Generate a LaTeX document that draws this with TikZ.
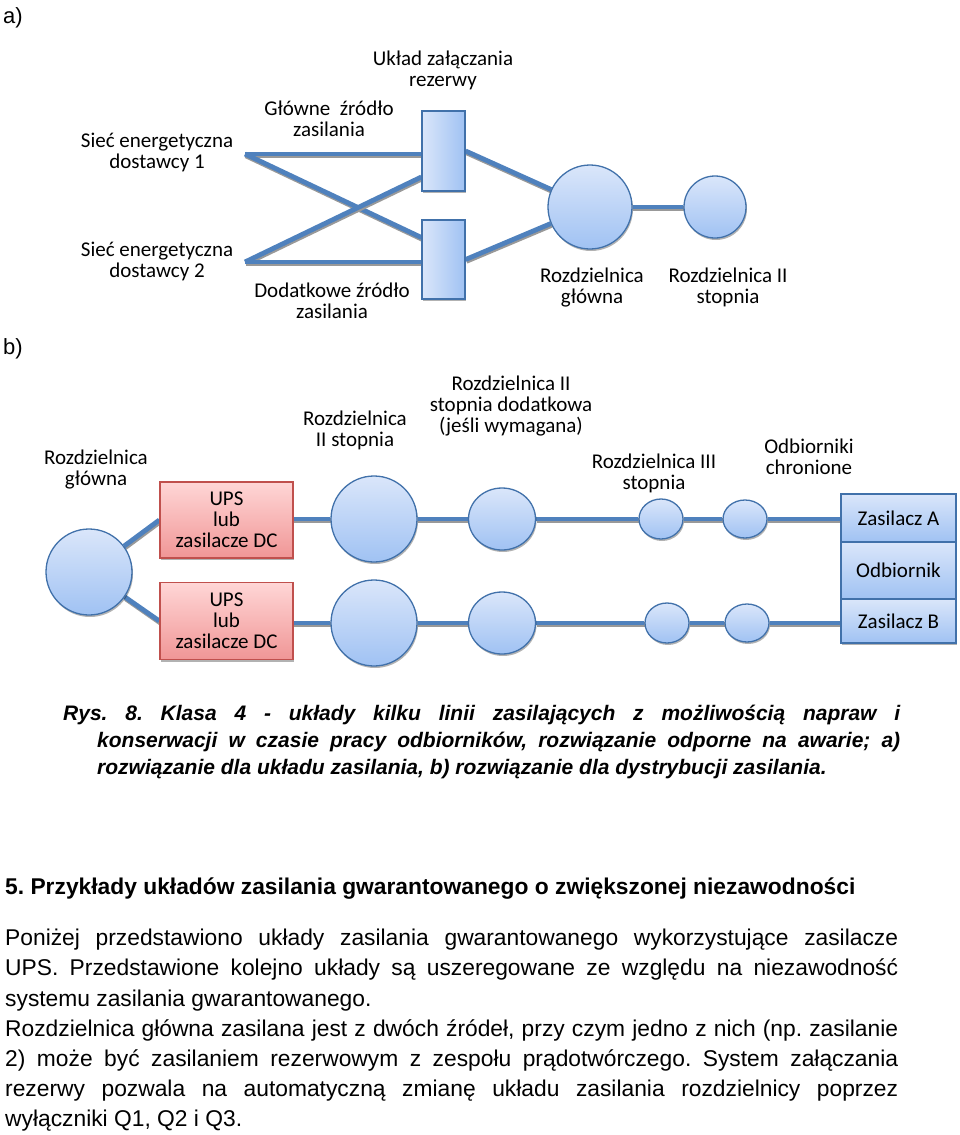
\documentclass[tikz,border=0pt]{standalone}
\usepackage{fontspec}
\setmainfont{Liberation Sans}
\newfontfamily\calib{Carlito}
\usetikzlibrary{shapes.geometric,shadows,backgrounds}
\definecolor{linkblue}{RGB}{79,129,189}
\definecolor{edgeblue}{RGB}{65,113,170}
\definecolor{blueA}{RGB}{218,230,250}
\definecolor{blueB}{RGB}{160,194,243}
\definecolor{pinkA}{RGB}{255,214,214}
\definecolor{pinkB}{RGB}{240,150,150}
\definecolor{edgered}{RGB}{192,80,77}
\frenchspacing

\begin{document}
\begin{tikzpicture}[x=1pt,y=-1pt,
    lbl/.style={font=\calib\fontsize{21}{21}\selectfont, align=center, inner sep=0pt},
    shad/.style={drop shadow={shadow xshift=1pt,shadow yshift=-2pt,opacity=0.3,fill=black}},
    sw/.style={draw=edgeblue, line width=1.3pt, left color=blueA, right color=blueB, shad, minimum width=43pt, minimum height=80pt, inner sep=0pt},
    rg/.style={circle, draw=edgeblue, line width=1.3pt, top color=blueA, bottom color=blueB, shad, inner sep=0pt},
    rgs/.style={ellipse, draw=edgeblue, line width=1.3pt, top color=blueA, bottom color=blueB, shad, inner sep=0pt},
    ups/.style={draw=edgered, line width=1.3pt, top color=pinkA, bottom color=pinkB, shad, minimum width=133pt, minimum height=77pt, lbl},
    cell/.style={draw=edgeblue, line width=1.3pt, top color=blueA, bottom color=blueB, shad, minimum width=115pt, lbl},
    link/.style={line width=4.8pt, linkblue, preaction={draw=black!40, line width=4.8pt, transform canvas={xshift=0.8pt,yshift=-1.8pt}}}
  ]
    \useasboundingbox (0,0) rectangle (960,1135);

    \node[anchor=west, inner sep=0pt, font=\fontsize{22}{22}\selectfont] (taga) at (3,18) {a)};
    \node[anchor=west, inner sep=0pt, font=\fontsize{22}{22}\selectfont] (tagb) at (3,349) {b)};

    \node[sw] (szr1) at (443.5,151) {};
    \node[sw, minimum height=79pt] (szr2) at (443.5,259.5) {};
    \node[rg, minimum size=84pt] (rgl) at (590,207) {};
    \node[rg, minimum size=62pt] (r2st) at (715,207) {};
    \coordinate (s1) at (245,154);
    \coordinate (s2) at (245,262);

    \node[lbl] (t_szr) at (443,70) {Układ załączania\\rezerwy};
    \node[lbl] (t_gl) at (329,119) {Główne \ źródło\\zasilania};
    \node[lbl] (t_s1) at (157,152) {Sieć energetyczna\\dostawcy 1};
    \node[lbl] (t_s2) at (157,261) {Sieć energetyczna\\dostawcy 2};
    \node[lbl] (t_dod) at (332,301) {Dodatkowe źródło\\zasilania};
    \node[lbl] (t_rgl) at (592,287.5) {Rozdzielnica\\główna};
    \node[lbl] (t_r2st) at (728,287.5) {Rozdzielnica II\\stopnia};

    \begin{scope}[on background layer]
        \draw[link] (s1) -- (s1 -| szr1.west);
        \draw[link] (s1) -- ([yshift=22pt]szr2.west);
        \draw[link] (s2) -- ([yshift=-26pt]szr1.west);
        \draw[link] (s2) -- (s2 -| szr2.west);
        \draw[link] (szr1.east) -- (rgl);
        \draw[link] (szr2.east) -- (rgl);
        \draw[link] (rgl) -- (r2st);
    \end{scope}

    \node[rg, minimum size=86pt] (bgl) at (89,572) {};
    \node[ups, minimum height=76pt] (ups1) at (226.5,520) {UPS\\lub\\zasilacze DC};
    \node[ups] (ups2) at (226.5,621) {UPS\\lub\\zasilacze DC};
    \node[rg, minimum size=86pt] (c2a) at (374,519) {};
    \node[rg, minimum size=86pt] (c2b) at (374,623) {};
    \node[rgs, minimum width=67pt, minimum height=62pt] (c3a) at (502,519) {};
    \node[rgs, minimum width=67pt, minimum height=62pt] (c3b) at (502,623) {};
    \node[rgs, minimum width=44pt, minimum height=40pt] (c4a) at (661,519) {};
    \node[rgs, minimum width=44pt, minimum height=40pt] (c4b) at (667,623) {};
    \node[rgs, minimum width=44pt, minimum height=38pt] (c5a) at (745,519) {};
    \node[rgs, minimum width=44pt, minimum height=38pt] (c5b) at (747,623) {};
    \node[cell, minimum height=48pt] (zasA) at (898.5,518) {Zasilacz A};
    \node[cell, minimum height=57pt] (odb) at (898.5,570.5) {Odbiornik};
    \node[cell, minimum height=44pt] (zasB) at (898.5,621) {Zasilacz B};

    \node[lbl] (t_bgl) at (96,470) {Rozdzielnica\\główna};
    \node[lbl] (t_c2) at (355,430) {Rozdzielnica\\II stopnia};
    \node[lbl] (t_c3) at (511,406) {Rozdzielnica II\\stopnia dodatkowa\\(jeśli wymagana)};
    \node[lbl] (t_c4) at (654,473) {Rozdzielnica III\\stopnia};
    \node[lbl] (t_c5) at (809,457) {Odbiorniki\\chronione};

    \begin{scope}[on background layer]
        \draw[link] (bgl) -- (ups1.west);
        \draw[link] (bgl) -- (ups2.west);
        \draw[link] (ups1.east |- c2a) -- (c2a) -- (c3a) -- (c4a) -- (c5a) -- (c5a -| zasA.west);
        \draw[link] (ups2.east |- c2b) -- (c2b) -- (c3b) -- (c4b) -- (c5b) -- (c5b -| zasB.west);
    \end{scope}

    \node[anchor=north west, inner sep=0pt, text width=837pt, align=justify,
          font=\fontsize{21}{27}\selectfont\bfseries\itshape] (rys) at (63,705)
        {Rys. 8. Klasa 4 - układy kilku linii zasilających z możliwością napraw i\linebreak
         \hspace*{34pt}konserwacji w czasie pracy odbiorników, rozwiązanie odporne na awarie; a)\linebreak
         \hspace*{34pt}rozwiązanie dla układu zasilania, b) rozwiązanie dla dystrybucji zasilania.};

    \node[anchor=north west, inner sep=0pt, font=\fontsize{22.8}{27}\selectfont\bfseries] (head) at (5,877.5)
        {5. Przykłady układów zasilania gwarantowanego o zwiększonej niezawodności};

    \node[anchor=north west, inner sep=0pt, text width=893pt, align=justify,
          font=\fontsize{22.8}{30.2}\selectfont] (body) at (5,929)
        {Poniżej przedstawiono układy zasilania gwarantowanego wykorzystujące zasilacze\linebreak
         UPS. Przedstawione kolejno układy są uszeregowane ze względu na niezawodność\linebreak
         systemu zasilania gwarantowanego.\par
         Rozdzielnica główna zasilana jest z dwóch źródeł, przy czym jedno z nich (np. zasilanie\linebreak
         2) może być zasilaniem rezerwowym z zespołu prądotwórczego. System załączania\linebreak
         rezerwy pozwala na automatyczną zmianę układu zasilania rozdzielnicy poprzez\linebreak
         wyłączniki Q1, Q2 i Q3.};
\end{tikzpicture}
\end{document}
